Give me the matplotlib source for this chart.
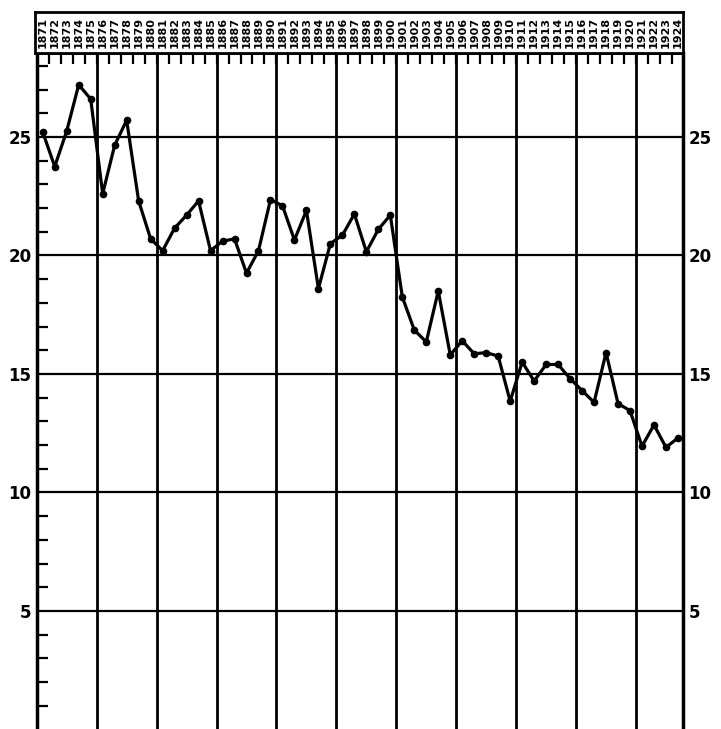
import matplotlib
matplotlib.use("Agg")
import matplotlib.pyplot as plt
import numpy as np

# yearly values
years = list(range(1871, 1925))
values = [
    25.2, 23.75, 25.25, 27.2, 26.6, 22.6, 24.65, 25.7, 22.3, 20.7,
    20.2, 21.15, 21.7, 22.3, 20.2, 20.6, 20.7, 19.25, 20.2, 22.35,
    22.1, 20.65, 21.9, 18.6, 20.5, 20.85, 21.75, 20.15, 21.1, 21.7,
    18.25, 16.85, 16.35, 18.5, 15.8, 16.4, 15.85, 15.9, 15.75, 13.85,
    15.5, 14.7, 15.4, 15.4, 14.8, 14.3, 13.8, 15.9, 13.75, 13.45,
    11.95, 12.85, 11.9, 12.3,
]
major_y = [5, 10, 15, 20, 25]
decade_lines = [1875.5, 1880.5, 1885.5, 1890.5, 1895.5,
                1900.5, 1905.5, 1910.5, 1915.5, 1920.5]

W, H = 721, 729
fig = plt.figure(figsize=(W / 100, H / 100), dpi=100)

x0, x1 = 1870.52, 1924.42

ax = fig.add_axes([37 / W, 0, (683 - 37) / W, (729 - 53) / H])
ax.set_xlim(x0, x1)
ax.set_ylim(0.02, 28.54)

for v in major_y:
    ax.axhline(v, color="black", lw=1.6, zorder=1)
for x in decade_lines:
    ax.axvline(x, color="black", lw=2.0, zorder=1)

ax.plot(years, values, color="black", lw=2.3, marker="o", ms=4.5, zorder=3)

ax.set_yticks(major_y)
ax.set_yticks(range(1, 29), minor=True)
ax.tick_params(axis="y", which="major", length=0, labelleft=True,
               labelright=True, labelsize=12, pad=4)
ax.tick_params(axis="y", which="minor", direction="in", length=8, width=1.6,
               left=True, right=False)
for lab in ax.get_yticklabels():
    lab.set_fontweight("bold")

ax.set_xticks([y + 0.5 for y in years[:-1]])
ax.tick_params(axis="x", which="major", direction="in", length=8, width=1.6,
               top=True, bottom=False, labelbottom=False, labeltop=False)

for side in ("left", "right"):
    ax.spines[side].set_linewidth(2.5)
ax.spines["top"].set_linewidth(2.0)
ax.spines["bottom"].set_visible(False)

# year label strip at the top
top = fig.add_axes([35 / W, (729 - 53) / H, (683 - 35) / W, 41 / H])
top.set_xlim(x0 - 2 / 12, x1)
top.set_ylim(0, 1)
top.set_xticks([])
top.set_yticks([])
for s in top.spines.values():
    s.set_linewidth(2.0)
for y in years:
    top.text(y, 0.5, str(y), rotation=90, ha="center", va="center",
             fontsize=8, fontweight="bold")

fig.savefig("out.png", dpi=100)
